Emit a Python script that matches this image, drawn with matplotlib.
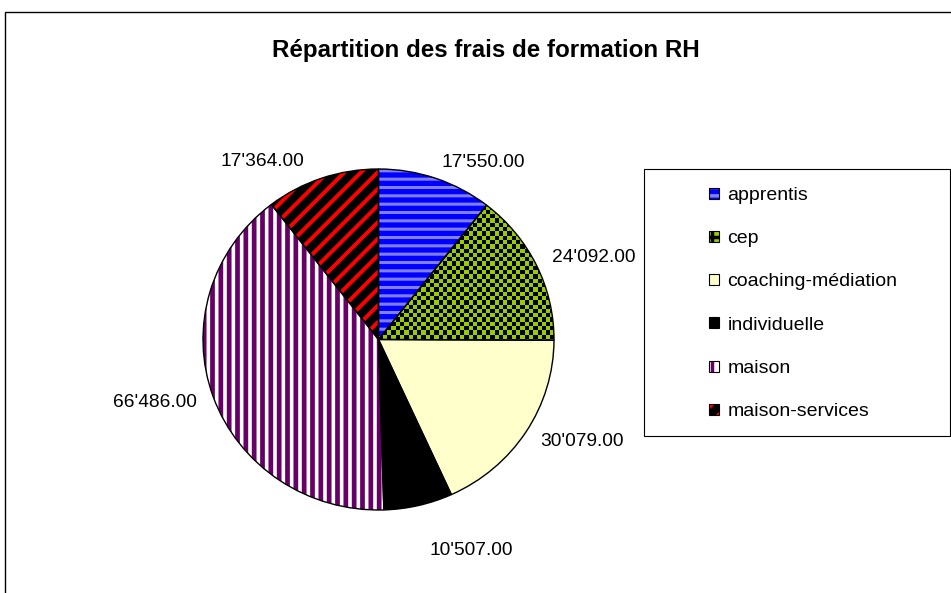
import matplotlib
matplotlib.use("Agg")
import matplotlib.pyplot as plt
import numpy as np
from matplotlib.patches import Patch, Rectangle
from matplotlib.colors import ListedColormap

plt.rcParams['font.family'] = ['Liberation Sans', 'DejaVu Sans']
plt.rcParams['hatch.linewidth'] = 2.5

# data
categories = ['apprentis', 'cep', 'coaching-médiation', 'individuelle', 'maison', 'maison-services']
amounts = [17550, 24092, 30079, 10507, 66486, 17364]
value_labels = ["17'550.00", "24'092.00", "30'079.00", "10'507.00", "66'486.00", "17'364.00"]

# fill styles (face / hatch colour / hatch)
face_colors = ['#0000ff', '#99cc00', '#ffffcc', '#000000', '#ffffff', '#000000']
hatch_colors = ['#8080ff', '#000000', '#ffffcc', '#000000', '#660066', '#ff0000']
hatches = ['--', None, None, None, '||', '//']
legend_hatches = ['--', '++', None, None, '||', '//']
hatch_widths = [2.2, 2.2, 1, 1, 3.4, 2.8]


def thick_hatch(patch, lw):
    if hasattr(patch, 'set_hatch_linewidth'):
        patch.set_hatch_linewidth(lw)


W, H = 951, 593
fig = plt.figure(figsize=(W / 100, H / 100), dpi=100)

# pie geometry in pixels (slightly squashed like the original)
cx, cy = 378.5, 339.5
rx, ry = 175.5, 170.5
half = 245
ax = fig.add_axes([(cx - half) / W, 1 - (cy + half) / H, 2 * half / W, 2 * half / H])

wedges, texts = ax.pie(amounts, labels=value_labels, colors=face_colors,
                       startangle=90, counterclock=False, labeldistance=1.1,
                       textprops=dict(fontsize=13.8), wedgeprops=dict(linewidth=0))
for w, hc, h, hw in zip(wedges, hatch_colors, hatches, hatch_widths):
    w.set_edgecolor(hc)   # hatch colour follows edge colour
    if h:
        w.set_hatch(h)
        thick_hatch(w, hw)

# checkerboard fill for "cep"
n = 110
checker = np.add.outer(np.arange(n), np.arange(n)) % 2
sx = n / 2 * 4.3 / rx
sy = n / 2 * 4.3 / ry
im = ax.imshow(checker, cmap=ListedColormap(['#99cc00', '#000000']),
               extent=(-sx, sx, -sy, sy), interpolation='nearest', zorder=1.5)
im.set_clip_path(wedges[1])

# black outlines on top
ax.pie(amounts, colors=['none'] * len(amounts), startangle=90, counterclock=False,
       wedgeprops=dict(edgecolor='black', linewidth=1.0, zorder=2))

# the small slice label sits further out, the top-left one a little more left
w = wedges[3]
ang = np.deg2rad((w.theta1 + w.theta2) / 2)
texts[3].set_position((1.27 * np.cos(ang), 1.27 * np.sin(ang)))
x5, y5 = texts[5].get_position()
texts[5].set_position((x5 - 0.07, y5))

ax.set_aspect('auto')
ax.set_xlim(-half / rx, half / rx)
ax.set_ylim(-half / ry, half / ry)
ax.axis('off')

# title
fig.text(485.5 / W, 1 - 57.5 / H, 'Répartition des frais de formation RH',
         ha='center', va='baseline', fontsize=17.4, fontweight='bold')

# legend
handles = []
for fc, hc, h, hw in zip(face_colors, hatch_colors, legend_hatches, hatch_widths):
    p = Patch(facecolor=fc, edgecolor=hc, hatch=h, linewidth=0)
    thick_hatch(p, hw)
    handles.append((p, Patch(facecolor='none', edgecolor='black', linewidth=0.8)))
fig.legend(handles, categories, loc='upper left', bbox_to_anchor=(709 / W, 1 - 187 / H),
           frameon=False, fontsize=14, handlelength=0.5, handleheight=0.5,
           handletextpad=0.45, labelspacing=1.35, borderpad=0, borderaxespad=0)
fig.add_artist(Rectangle((644 / W, 1 - 436 / H), 306 / W, 267 / H, transform=fig.transFigure,
                         fill=False, edgecolor='black', linewidth=0.8))

# outer chart frame (only top and left visible)
fig.add_artist(Rectangle((5 / W, -0.05), 1.0, 1 - 12 / H + 0.05, transform=fig.transFigure,
                         fill=False, edgecolor='black', linewidth=1.0))

fig.savefig('out.png', dpi=100)
